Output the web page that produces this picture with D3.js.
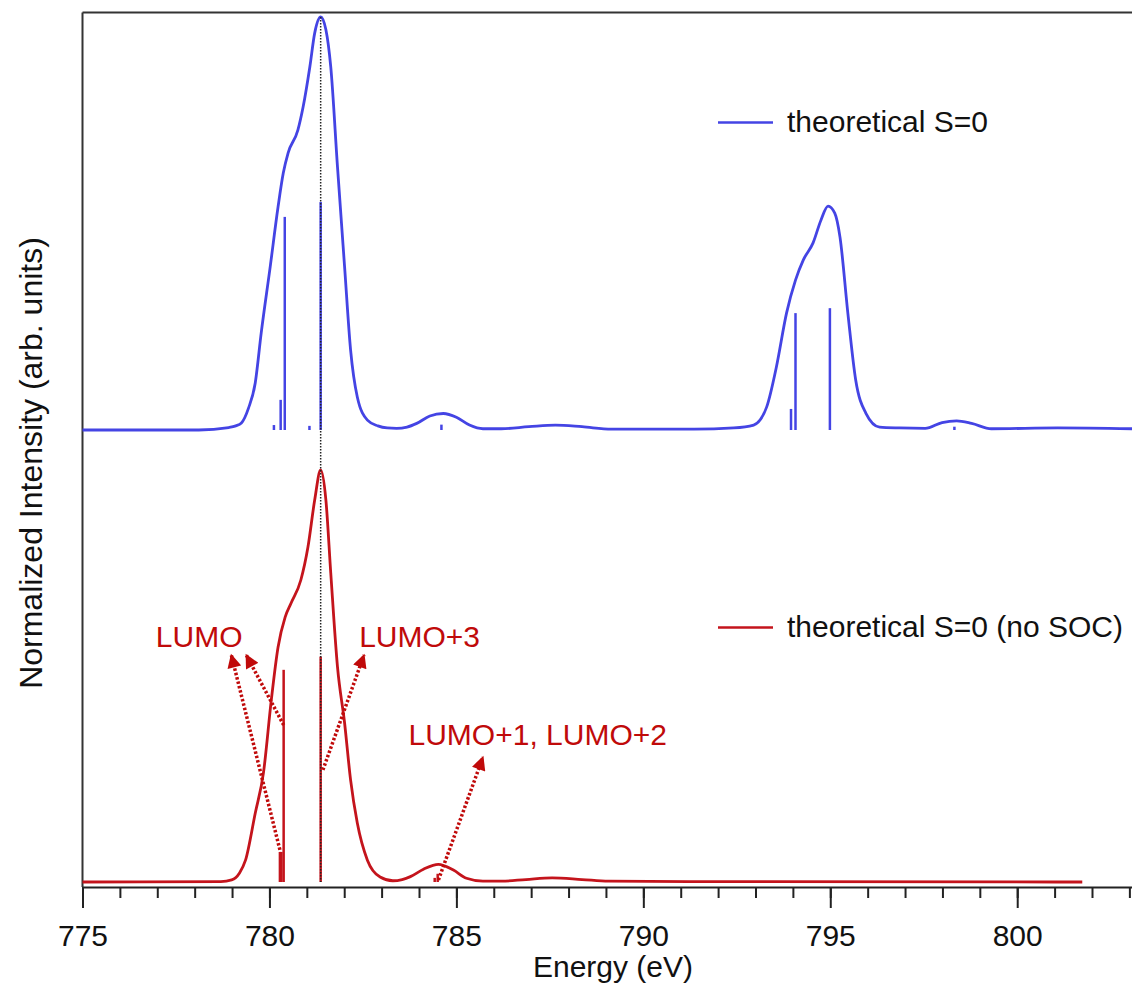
<!DOCTYPE html>
<html>
<head>
<meta charset="utf-8">
<script src="https://cdn.jsdelivr.net/npm/d3@7"></script>
<style>
  body { margin: 0; background: #fff; }
  svg text { font-family: "Liberation Sans", Arial, sans-serif; }
</style>
</head>
<body>
<svg id="chart" width="1132" height="983"></svg>
<script>
// energy (eV) and normalized intensity
var blueE = [775, 778.11, 778.91, 779.1, 779.25, 779.44, 779.62, 779.78, 780.02, 780.23, 780.37, 780.5, 780.76, 780.9, 781.08, 781.21, 781.37, 781.51, 781.64, 781.82, 782.01, 782.17, 782.35, 782.62, 782.9, 783.15, 783.4, 783.68, 783.94, 784.29, 784.65, 785.0, 785.35, 785.71, 786.2, 786.94, 787.65, 788.36, 789.15, 791.36, 792.42, 792.95, 793.3, 793.56, 793.83, 794.07, 794.28, 794.54, 794.75, 794.94, 795.12, 795.26, 795.47, 795.68, 795.95, 796.32, 796.85, 797.54, 797.99, 798.38, 798.78, 799.31, 801.08, 803.07];
var blueI = [0, 0, 0.006, 0.01, 0.017, 0.053, 0.114, 0.235, 0.395, 0.54, 0.622, 0.671, 0.726, 0.782, 0.879, 0.961, 1.0, 0.969, 0.879, 0.637, 0.395, 0.194, 0.08, 0.024, 0.01, 0.005, 0.004, 0.007, 0.016, 0.034, 0.04, 0.031, 0.012, 0.003, 0.003, 0.008, 0.012, 0.008, 0.002, 0.002, 0.005, 0.012, 0.056, 0.153, 0.283, 0.363, 0.412, 0.453, 0.508, 0.542, 0.525, 0.467, 0.283, 0.121, 0.041, 0.007, 0.005, 0.004, 0.018, 0.022, 0.016, 0.003, 0.005, 0.003];

var redE = [775, 778.7, 778.99, 779.2, 779.36, 779.62, 779.84, 780.05, 780.23, 780.42, 780.58, 780.84, 781.03, 781.21, 781.37, 781.51, 781.64, 781.82, 782.01, 782.17, 782.35, 782.62, 782.96, 783.3, 783.55, 783.77, 784.12, 784.52, 784.92, 785.27, 785.71, 786.2, 786.86, 787.56, 788.36, 789.07, 791.36, 801.74];
var redI = [0, 0.001, 0.005, 0.022, 0.053, 0.167, 0.265, 0.442, 0.57, 0.643, 0.677, 0.733, 0.813, 0.927, 1.0, 0.927, 0.75, 0.522, 0.386, 0.248, 0.143, 0.053, 0.012, 0.003, 0.006, 0.013, 0.031, 0.043, 0.029, 0.009, 0.002, 0.002, 0.006, 0.01, 0.006, 0.002, 0.001, 0];

// transition sticks
var blueStickE = [780.12, 780.3, 780.41, 781.07, 781.37, 784.6, 793.95, 794.07, 794.99, 798.32];
var blueStickI = [0.012, 0.073, 0.516, 0.01, 0.552, 0.013, 0.051, 0.283, 0.295, 0.008];
var redStickE = [780.28, 780.32, 780.38, 781.37, 784.42, 784.5];
var redStickI = [0.073, 0.073, 0.515, 0.547, 0.01, 0.02];

var majorTicks = [775, 780, 785, 790, 795, 800];
var legendLabels = ["theoretical S=0", "theoretical S=0 (no SOC)"];

// arrow annotations on the lower spectrum: [fromE, fromI, toE, toI]
var arrows = [
  [780.28, 0.078, 778.98, 0.551],
  [780.38, 0.381, 779.38, 0.551],
  [781.43, 0.272, 782.53, 0.551],
  [784.52, 0.005, 785.71, 0.303]
];
var labels = [
  { text: "LUMO", e: 778.12, i: 0.57, anchor: "middle" },
  { text: "LUMO+3", e: 782.40, i: 0.57, anchor: "start" },
  { text: "LUMO+1, LUMO+2", e: 783.72, i: 0.333, anchor: "start" }
];

var blue = "#4444e4", red = "#c4141c", textRed = "#c00a0a";

var svg = d3.select("#chart");
var x = d3.scaleLinear().domain([775, 803.07]).range([82.5, 1132]);
var yTop = d3.scaleLinear().domain([0, 1]).range([430, 17]);
var yBot = d3.scaleLinear().domain([0, 1]).range([882, 470]);
var axisY = 887;

// frame
svg.append("line").attr("x1", 82.5).attr("x2", 82.5).attr("y1", 12.5).attr("y2", axisY)
  .attr("stroke", "#333").attr("stroke-width", 2);
svg.append("line").attr("x1", 82.5).attr("x2", 1132).attr("y1", 12.5).attr("y2", 12.5)
  .attr("stroke", "#333").attr("stroke-width", 2);

// axis
var minor = svg.append("g").attr("transform", "translate(0," + axisY + ")")
  .call(d3.axisBottom(x).tickValues(d3.range(775, 804, 1)).tickSize(11).tickSizeOuter(0).tickFormat(""));
minor.select(".domain").attr("stroke", "#222").attr("stroke-width", 2);
minor.selectAll(".tick line").attr("stroke", "#222").attr("stroke-width", 2);

var major = svg.append("g").attr("transform", "translate(0," + axisY + ")")
  .call(d3.axisBottom(x).tickValues(majorTicks).tickSize(21).tickSizeOuter(0).tickPadding(17).tickFormat(d3.format("d")));
major.select(".domain").remove();
major.selectAll(".tick line").attr("stroke", "#222").attr("stroke-width", 2);
major.selectAll(".tick text").attr("font-size", 30).attr("fill", "#111")
  .style("font-family", "'Liberation Sans', Arial, sans-serif");

svg.append("text").attr("x", 613).attr("y", 977).attr("text-anchor", "middle")
  .attr("font-size", 30).attr("fill", "#111").text("Energy (eV)");
svg.append("text").attr("transform", "translate(42,463) rotate(-90)").attr("text-anchor", "middle")
  .attr("font-size", 32).attr("fill", "#111").text("Normalized Intensity (arb. units)");

// sticks
function sticks(es, is, y, color) {
  svg.append("g").selectAll("line").data(es).enter().append("line")
    .attr("x1", function(d) { return x(d); }).attr("x2", function(d) { return x(d); })
    .attr("y1", y(0)).attr("y2", function(d, i) { return y(is[i]); })
    .attr("stroke", color).attr("stroke-width", 2.5);
}
sticks(blueStickE, blueStickI, yTop, blue);
sticks(redStickE, redStickI, yBot, red);

// spectra
function spectrum(es, is, y, color) {
  var line = d3.line().x(function(d) { return x(d); }).y(function(d, i) { return y(is[i]); })
    .curve(d3.curveMonotoneX);
  svg.append("path").attr("d", line(es)).attr("fill", "none")
    .attr("stroke", color).attr("stroke-width", 2.8);
}
spectrum(blueE, blueI, yTop, blue);
spectrum(redE, redI, yBot, red);

// dotted guide through the main peak
svg.append("line").attr("x1", x(781.37)).attr("x2", x(781.37))
  .attr("y1", yTop(1)).attr("y2", yBot(0))
  .attr("stroke", "#222").attr("stroke-width", 1.5).attr("stroke-dasharray", "1.5,1.5");

// arrows
svg.append("defs").append("marker").attr("id", "head")
  .attr("viewBox", "0 0 10 10").attr("refX", 9).attr("refY", 5)
  .attr("markerWidth", 4.5).attr("markerHeight", 4).attr("orient", "auto")
  .append("path").attr("d", "M0,0L10,5L0,10z").attr("fill", textRed);

svg.append("g").selectAll("line").data(arrows).enter().append("line")
  .attr("x1", function(d) { return x(d[0]); }).attr("y1", function(d) { return yBot(d[1]); })
  .attr("x2", function(d) { return x(d[2]); }).attr("y2", function(d) { return yBot(d[3]); })
  .attr("stroke", textRed).attr("stroke-width", 3.5).attr("stroke-dasharray", "2.5,2")
  .attr("marker-end", "url(#head)");

svg.append("g").selectAll("text").data(labels).enter().append("text")
  .attr("x", function(d) { return x(d.e); }).attr("y", function(d) { return yBot(d.i); })
  .attr("text-anchor", function(d) { return d.anchor; })
  .attr("font-size", 30).attr("fill", textRed).text(function(d) { return d.text; });

// legends
var legendPos = [{ y: 122.5, c: blue }, { y: 627.5, c: red }];
legendLabels.forEach(function(t, i) {
  var p = legendPos[i];
  svg.append("line").attr("x1", 718).attr("x2", 773).attr("y1", p.y).attr("y2", p.y)
    .attr("stroke", p.c).attr("stroke-width", 2.5);
  svg.append("text").attr("x", 787).attr("y", p.y + 9.5).attr("font-size", 30)
    .attr("fill", "#111").text(t);
});
</script>
</body>
</html>
